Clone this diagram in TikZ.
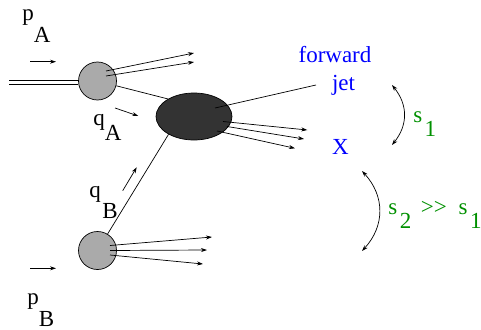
\documentclass[tikz,border=0pt]{standalone}
\usepackage{fontspec}
\setmainfont{Liberation Serif}
\usetikzlibrary{shapes.geometric,arrows.meta,calc}
\definecolor{blobgray}{RGB}{170,170,170}
\definecolor{hardgray}{RGB}{51,51,51}
\definecolor{jetblue}{RGB}{0,0,255}
\definecolor{sgreen}{RGB}{0,144,0}
\newcommand{\subdown}[2]{\raisebox{-#1pt}{#2}}

\begin{document}
\begin{tikzpicture}[
    x=1pt, y=-1pt,
    line width=0.7pt,
    every node/.style={font=\fontsize{23}{28}\selectfont, inner sep=0pt},
    blob/.style={circle, draw, fill=blobgray, minimum size=38pt},
    hardblob/.style={ellipse, draw, fill=hardgray, minimum width=76pt, minimum height=47pt},
    beam/.style={double, double distance=3.4pt, line width=0.7pt},
    arr/.style={-{Stealth[length=6pt,width=4pt]}},
    twoarr/.style={{Stealth[length=6pt,width=4pt]}-{Stealth[length=6pt,width=4pt]}},
    lbl/.style={anchor=base west},
    bluelbl/.style={anchor=base, text=jetblue},
    greenlbl/.style={anchor=base west, text=sgreen}
]
\useasboundingbox (0,0) rectangle (481,329);

% proton blobs and hard scattering
\node[blob] (blobA) at (97.5,81) {};
\node[blob] (blobB) at (97.5,250.5) {};
\node[hardblob] (hard) at (194,116.5) {};

% labels
\node[lbl] (pA) at (22,21) {p\subdown{22}{A}};
\node[lbl] (qA) at (93,125) {q\subdown{15}{A}};
\node[lbl] (qB) at (89,197.5) {q\hspace{1.5pt}\subdown{20.5}{B}};
\node[lbl] (pB) at (27,304) {p\subdown{22}{B}};
\node[bluelbl] (fwd) at (335,62) {forward};
\node[bluelbl] (jet) at (343.5,90) {jet};
\node[bluelbl] (X) at (340.5,154) {X};
\node[greenlbl] (sone) at (413,122) {s\hspace{2.4pt}\subdown{14}{1}};
\node[greenlbl] (stwo) at (388,214) {s\hspace{2.5pt}\subdown{14}{2}\hspace{9.5pt}>\kern0pt>\hspace{12pt}s\hspace{2.5pt}\subdown{14}{1}};

% incoming beams
\coordinate (beamA) at (9,82.5);
\coordinate (beamB) at (9,248);
\draw[beam] (beamA) -- (beamA -| blobA.west);
\draw[beam] (beamB) -- (beamB -| blobB.west);

% momentum arrows
\coordinate (pAs) at (30,61.7);
\coordinate (pAe) at (56,61.7);
\coordinate (pBs) at (30,268.3);
\coordinate (pBe) at (56,268.3);
\coordinate (qAs) at (115,108);
\coordinate (qAe) at (138.3,116);
\coordinate (qBs) at (122.7,190.7);
\coordinate (qBe) at (136.7,167.3);
\draw[arr] (pAs) -- (pAe);
\draw[arr] (pBs) -- (pBe);
\draw[arr] (qAs) -- (qAe);
\draw[arr] (qBs) -- (qBe);

% partons into the hard process
\draw (blobA) -- (hard.146);
\draw (blobB) -- (hard.215);

% remnants
\coordinate (remA1) at (194,53);
\coordinate (remA2) at (194,62);
\coordinate (remB1) at (212,237);
\coordinate (remB2) at (207,250);
\coordinate (remB3) at (203,264);
\draw[arr] ($(blobA)+(8.5,-10)$) -- (remA1);
\draw[arr] ($(blobA)+(8.5,-5)$) -- (remA2);
\draw[arr] ($(blobB)+(12.5,-5)$) -- (remB1);
\draw[arr] ($(blobB)+(12.5,0)$) -- (remB2);
\draw[arr] ($(blobB)+(12.5,4.5)$) -- (remB3);

% forward jet and X
\coordinate (jetend) at (316,85);
\coordinate (X1) at (307.3,130);
\coordinate (X2) at (304,139);
\coordinate (X3) at (295,148.3);
\draw ($(hard)+(21,-8.5)$) -- (jetend);
\draw[arr] ($(hard)+(29,5)$) -- (X1);
\draw[arr] ($(hard)+(33,10)$) -- (X2);
\draw[arr] ($(hard)+(23,14.5)$) -- (X3);

% rapidity intervals
\coordinate (sonetop) at (392,85);
\coordinate (sonebot) at (392,145);
\coordinate (stwotop) at (362,171);
\coordinate (stwobot) at (362,251);
\draw[twoarr] (sonetop) .. controls (408,105) and (408,125) .. (sonebot);
\draw[twoarr] (stwotop) .. controls (385,196) and (385,226) .. (stwobot);

\end{tikzpicture}
\end{document}
